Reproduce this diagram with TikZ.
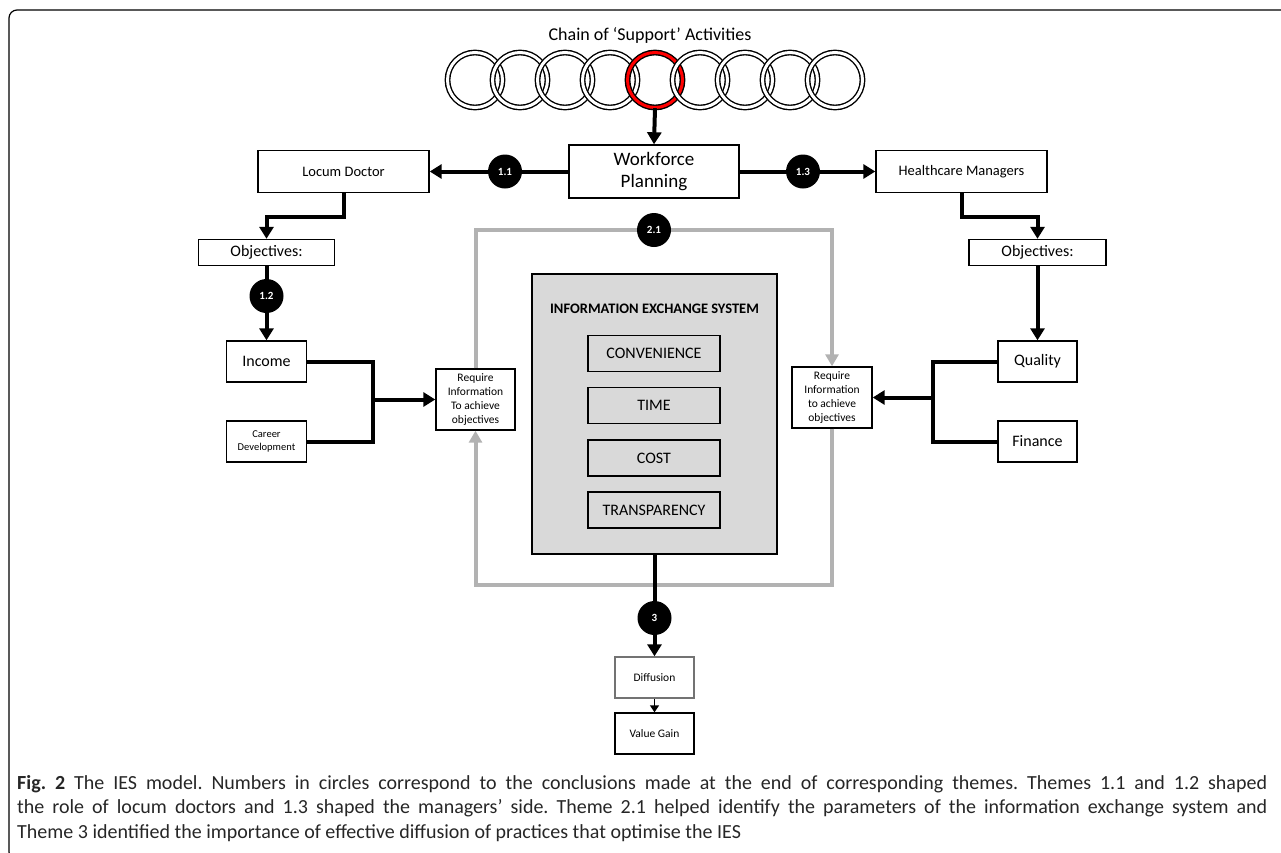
\documentclass[tikz,border=0pt]{standalone}
\usepackage{fontspec}
\setmainfont{Carlito}
\usetikzlibrary{arrows.meta, calc}

\begin{document}
\begin{tikzpicture}[x=1pt, y=-1pt,
    box/.style={draw, line width=1.4pt, fill=white, inner sep=0pt, align=center},
    numdot/.style={circle, fill=black, minimum size=34pt, inner sep=0pt, text=white, font=\fontsize{11}{12}\selectfont\bfseries},
    thickline/.style={line width=4pt},
    thickarrow/.style={line width=4pt, -{Triangle[length=12pt, width=14pt]}},
    loopline/.style={line width=4pt, draw=black!30, -{Triangle[length=12pt, width=13pt]}},
    link/.style={circle, draw=black, line width=1.4pt, double distance=3pt, minimum size=55pt, inner sep=0pt}]

            \useasboundingbox (0,0) rectangle (1281,852);

            % frame round the figure
            \draw[line width=1.2pt, rounded corners=8pt] (1290,10) -- (9,10) -- (9,860) -- (40,860);

            % chain of support activities
            \node[font=\fontsize{18}{20}\selectfont] (chaintitle) at (650,35) {Chain of ‘Support’ Activities};
            \foreach \i/\col in {1/white,2/white,3/white,4/white,5/red,6/white,7/white,8/white,9/white}
                \node[link, double=\col] (link\i) at ({475+45*(\i-1)},80) {};

            % top row
            \node[box, minimum width=170pt, minimum height=53pt, font=\fontsize{19}{22}\selectfont] (wfp) at (654,171.5) {Workforce\\Planning};
            \node[box, minimum width=171pt, minimum height=42pt, font=\fontsize{14.5}{17}\selectfont] (locum) at (343.5,171.5) {Locum Doctor};
            \node[box, minimum width=171pt, minimum height=42pt, font=\fontsize{14.5}{17}\selectfont] (hcm) at (961.5,171.5) {Healthcare Managers};

            % objectives
            \node[box, minimum width=136pt, minimum height=26pt, font=\fontsize{16}{18}\selectfont] (lobj) at (266.5,252.5) {Objectives:};
            \node[box, minimum width=137pt, minimum height=26pt, font=\fontsize{16}{18}\selectfont] (robj) at (1037.5,252.5) {Objectives:};
            \node[box, minimum width=80pt, minimum height=41pt, font=\fontsize{16}{18}\selectfont] (income) at (266.5,361.5) {Income};
            \node[box, minimum width=80pt, minimum height=41pt, font=\fontsize{10.5}{13}\selectfont] (career) at (266.5,441.5) {Career\\Development};
            \node[box, minimum width=79pt, minimum height=41pt, font=\fontsize{16}{18}\selectfont] (quality) at (1037.5,361.5) {Quality};
            \node[box, minimum width=79pt, minimum height=41pt, font=\fontsize{16}{18}\selectfont] (finance) at (1037.5,441.5) {Finance};

            % require information boxes
            \node[box, minimum width=79pt, minimum height=61pt, font=\fontsize{11.5}{14}\selectfont] (lreq) at (475.5,399.5) {Require\\Information\\To achieve\\objectives};
            \node[box, minimum width=80pt, minimum height=61pt, font=\fontsize{11.5}{14}\selectfont] (rreq) at (832,397.5) {Require\\Information\\to achieve\\objectives};

            % grey loop round the exchange system
            \coordinate (looptop) at (654,230);
            \coordinate (loopbot) at (654,585);
            \draw[loopline] (lreq.north) |- (looptop -| rreq.north) -- (rreq.north);
            \draw[loopline] (rreq.south) |- (loopbot -| lreq.south) -- (lreq.south);

            % information exchange system
            \node[box, fill=black!15, line width=1.6pt, minimum width=245pt, minimum height=280pt] (ies) at (654.5,414) {};
            \node[font=\fontsize{14.5}{17}\selectfont\bfseries] (iestitle) at (654.5,309) {INFORMATION EXCHANGE SYSTEM};
            \node[box, fill=none, minimum width=132pt, minimum height=36pt, font=\fontsize{16}{18}\selectfont] (conv) at (654,353.5) {CONVENIENCE};
            \node[box, fill=none, minimum width=132pt, minimum height=36pt, font=\fontsize{16}{18}\selectfont] (time) at (654,405.5) {TIME};
            \node[box, fill=none, minimum width=132pt, minimum height=36pt, font=\fontsize{16}{18}\selectfont] (cost) at (654,458) {COST};
            \node[box, fill=none, minimum width=132pt, minimum height=36pt, font=\fontsize{16}{18}\selectfont] (transp) at (654,510) {TRANSPARENCY};

            % diffusion
            \node[box, draw=black!55, minimum width=79pt, minimum height=41pt, font=\fontsize{11.5}{14}\selectfont] (diff) at (654.5,677.5) {Diffusion};
            \node[box, minimum width=79pt, minimum height=41pt, font=\fontsize{11.5}{14}\selectfont] (value) at (654.5,733.5) {Value Gain};

            % numbered circles
            \node[numdot] (c11) at (505,171.5) {1.1};
            \node[numdot] (c13) at (803,171.5) {1.3};
            \node[numdot] (c12) at (266.5,296) {1.2};
            \node[numdot] (c21) at (looptop) {2.1};
            \node[numdot] (c3) at (654.5,618) {3};

            % connectors
            \draw[thickarrow] (link5.south) -- (wfp.north);
            \draw[thickline] (wfp) -- (c11);
            \draw[thickarrow] (c11) -- (locum);
            \draw[thickline] (wfp) -- (c13);
            \draw[thickarrow] (c13) -- (hcm);
            \draw[thickarrow] (locum.south) -- ++(0,24) -| (lobj.north);
            \draw[thickarrow] (hcm.south) -- ++(0,24) -| (robj.north);
            \draw[thickline] (lobj) -- (c12);
            \draw[thickarrow] (c12) -- (income);
            \draw[thickarrow] (robj) -- (quality);

            \coordinate (ljoin) at (373,0);
            \coordinate (rjoin) at (933,0);
            \draw[thickline] (income.east) -| (ljoin |- career.east) -- (career.east);
            \draw[thickarrow] (ljoin |- lreq.west) -- (lreq.west);
            \draw[thickline] (quality.west) -| (rjoin |- finance.west) -- (finance.west);
            \draw[thickarrow] (rjoin |- rreq.east) -- (rreq.east);

            \draw[thickline] (ies.south) -- (c3);
            \draw[thickarrow] (c3) -- (diff);
            \draw[line width=1.5pt, -{Triangle[length=7pt, width=9pt]}] (diff) -- (value);

            % caption
            \node[anchor=north west, text width=1250pt, align=justify, inner sep=0pt, text=black!85,
                  font=\fontsize{20}{24.5}\selectfont\frenchspacing] (caption) at (17,775)
                {\textbf{Fig.~2} The IES model. Numbers in circles correspond to the conclusions made at the end of corresponding themes. Themes 1.1 and 1.2 shaped\linebreak
                 the role of locum doctors and 1.3 shaped the managers’ side. Theme 2.1 helped identify the parameters of the information exchange system and\linebreak
                 Theme 3 identified the importance of effective diffusion of practices that optimise the IES};

        \end{tikzpicture}
\end{document}
